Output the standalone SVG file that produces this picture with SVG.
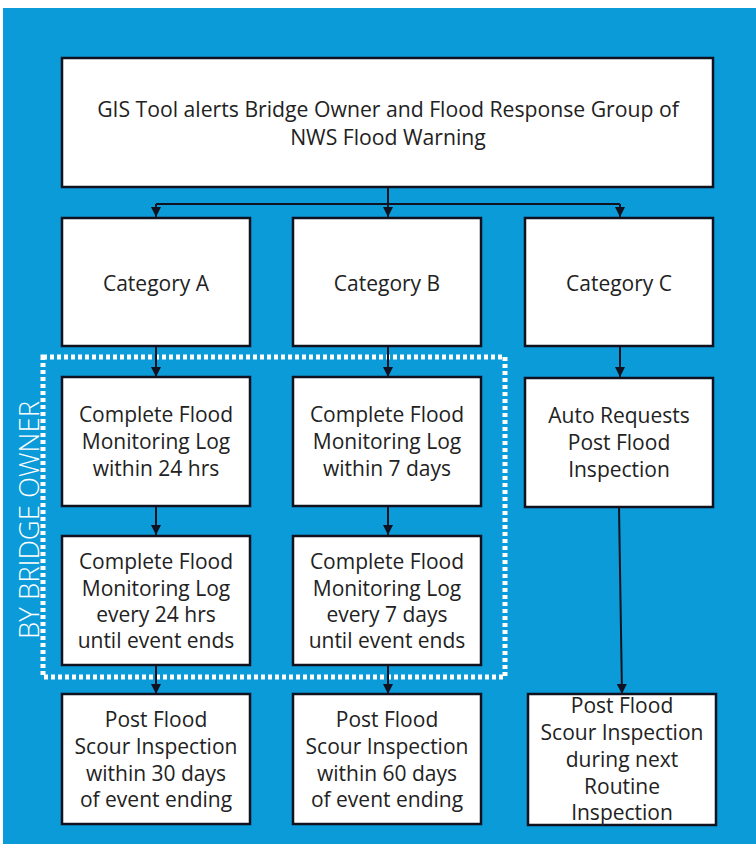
<svg xmlns="http://www.w3.org/2000/svg" width="756" height="844" viewBox="0 0 756 844">
<style>
.box{fill:#ffffff;stroke:#10131f;stroke-width:2.5}
.t{font-family:"Open Sans","Noto Sans",sans-serif;font-size:21px;fill:#222222;text-anchor:middle}
.tt{font-family:"Open Sans","Noto Sans",sans-serif;font-size:21.2px;fill:#222222;text-anchor:middle}
.c{fill:none;stroke:#10131f;stroke-width:2}
</style>
<defs>
<marker id="ah" viewBox="0 0 10 10" refX="10" refY="5" markerWidth="10" markerHeight="10" markerUnits="userSpaceOnUse" orient="auto">
<path d="M0,0 L10,5 L0,10 Z" fill="#10131f"/>
</marker>
</defs>
<rect x="0" y="0" width="756" height="844" fill="#ffffff"/>
<rect x="3" y="8" width="753" height="836" fill="#0a9bd8"/>

<g id="owner-group">
<rect x="43" y="357" width="462" height="320" fill="none" stroke="#ffffff" stroke-width="5" stroke-dasharray="4 3"/>
<text transform="translate(39,520) rotate(-90)" font-family="'Open Sans','Noto Sans',sans-serif" font-size="27.5" font-weight="300" fill="#ffffff" text-anchor="middle">BY BRIDGE OWNER</text>
</g>

<g id="connectors">
<path class="c" d="M388,187 V204 M156,204 H620"/>
<path class="c" marker-end="url(#ah)" d="M156,204 V217"/>
<path class="c" marker-end="url(#ah)" d="M388,204 V217"/>
<path class="c" marker-end="url(#ah)" d="M620,204 V217"/>
<path class="c" marker-end="url(#ah)" d="M156,346 V377"/>
<path class="c" marker-end="url(#ah)" d="M388,346 V377"/>
<path class="c" marker-end="url(#ah)" d="M620,346 V377"/>
<path class="c" marker-end="url(#ah)" d="M156,506 V535"/>
<path class="c" marker-end="url(#ah)" d="M388,506 V535"/>
<path class="c" marker-end="url(#ah)" d="M156,665 V694"/>
<path class="c" marker-end="url(#ah)" d="M388,665 V694"/>
<path class="c" marker-end="url(#ah)" d="M619,507 L622,694"/>
</g>

<g id="alert">
<rect class="box" x="62" y="58" width="651" height="129"/>
<text class="tt" x="388" y="117">GIS Tool alerts Bridge Owner and Flood Response Group of</text>
<text class="tt" x="388" y="145">NWS Flood Warning</text>
</g>

<g id="cat-a">
<rect class="box" x="62" y="218" width="188" height="128"/>
<text class="t" x="156" y="291">Category A</text>
</g>
<g id="cat-b">
<rect class="box" x="293" y="218" width="188" height="128"/>
<text class="t" x="387" y="291">Category B</text>
</g>
<g id="cat-c">
<rect class="box" x="525" y="218" width="188" height="128"/>
<text class="t" x="619" y="291">Category C</text>
</g>

<g id="a-log1">
<rect class="box" x="62" y="377" width="188" height="129"/>
<text class="t" x="156" y="422">Complete Flood</text>
<text class="t" x="156" y="449">Monitoring Log</text>
<text class="t" x="156" y="476">within 24 hrs</text>
</g>
<g id="b-log1">
<rect class="box" x="293" y="377" width="188" height="129"/>
<text class="t" x="387" y="422">Complete Flood</text>
<text class="t" x="387" y="449">Monitoring Log</text>
<text class="t" x="387" y="476">within 7 days</text>
</g>
<g id="c-auto">
<rect class="box" x="525" y="378" width="188" height="129"/>
<text class="t" x="619" y="423">Auto Requests</text>
<text class="t" x="619" y="450">Post Flood</text>
<text class="t" x="619" y="477">Inspection</text>
</g>

<g id="a-log2">
<rect class="box" x="62" y="536" width="188" height="129"/>
<text class="t" x="156" y="569">Complete Flood</text>
<text class="t" x="156" y="596">Monitoring Log</text>
<text class="t" x="156" y="622">every 24 hrs</text>
<text class="t" x="156" y="648">until event ends</text>
</g>
<g id="b-log2">
<rect class="box" x="293" y="536" width="188" height="129"/>
<text class="t" x="387" y="569">Complete Flood</text>
<text class="t" x="387" y="596">Monitoring Log</text>
<text class="t" x="387" y="622">every 7 days</text>
<text class="t" x="387" y="648">until event ends</text>
</g>

<g id="a-post">
<rect class="box" x="62" y="694" width="188" height="130"/>
<text class="t" x="156" y="727">Post Flood</text>
<text class="t" x="156" y="754">Scour Inspection</text>
<text class="t" x="156" y="781">within 30 days</text>
<text class="t" x="156" y="807">of event ending</text>
</g>
<g id="b-post">
<rect class="box" x="293" y="694" width="188" height="130"/>
<text class="t" x="387" y="727">Post Flood</text>
<text class="t" x="387" y="754">Scour Inspection</text>
<text class="t" x="387" y="781">within 60 days</text>
<text class="t" x="387" y="807">of event ending</text>
</g>
<g id="c-post">
<rect class="box" x="528" y="694" width="188" height="131"/>
<text class="t" x="622" y="713">Post Flood</text>
<text class="t" x="622" y="740">Scour Inspection</text>
<text class="t" x="622" y="767">during next</text>
<text class="t" x="622" y="794">Routine</text>
<text class="t" x="622" y="820">Inspection</text>
</g>
</svg>
